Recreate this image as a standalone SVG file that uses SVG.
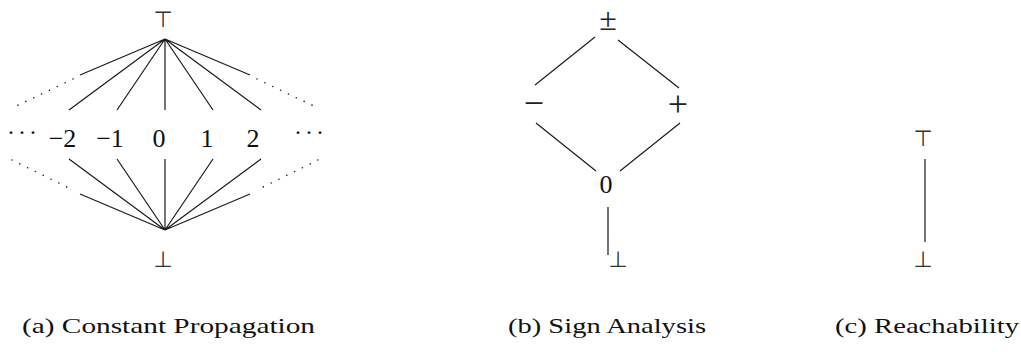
<svg xmlns="http://www.w3.org/2000/svg" width="1021" height="352" viewBox="0 0 1021 352">
<style>
.lbl{font-family:"Liberation Serif","DejaVu Serif",serif;font-size:26px;fill:#111;text-anchor:middle}
.op{font-family:"Liberation Serif","DejaVu Serif",serif;font-size:36px;fill:#222;text-anchor:middle}
.dots{font-family:"Liberation Serif","DejaVu Serif",serif;font-size:24px;fill:#111;letter-spacing:3px}
.sym{font-family:"DejaVu Sans",sans-serif;font-size:22px;fill:#333;text-anchor:middle}
.cap{font-family:"Liberation Serif","DejaVu Serif",serif;font-size:22px;fill:#111}
.e{stroke:#1a1a1a;stroke-width:1.2;fill:none}
.d{stroke:#1a1a1a;stroke-width:1.6;fill:none;stroke-dasharray:0 8.7;stroke-linecap:round}
</style>
<rect width="1021" height="352" fill="#fff"/>
<g id="connectors">
<path class="e" d="M165 39L80 75M165 39L69 110M165 39L117 110M165 39L165 110M165 39L213 110M165 39L261 110M165 39L250 75"/>
<path class="e" d="M165 230L80 194M165 230L69 159M165 230L117 159M165 230L165 159M165 230L213 159M165 230L261 159M165 230L250 194"/>
<path class="d" d="M73 79L12 108M257 79L318 108M12 160L73 190M318 160L257 190"/>
<path class="e" d="M595 37L535 85M618 40L679 88M536 123L596 171M680 123L620 171M608 207L608 255"/>
<path class="e" d="M925 159L925 242"/>
</g>
<g id="cp-top"><text class="sym" x="163" y="27">⊤</text></g>
<g id="cp-ldots"><text class="dots" x="7" y="140">···</text></g>
<g id="cp-m2"><text class="lbl" x="62.5" y="147">−2</text></g>
<g id="cp-m1"><text class="lbl" x="110" y="147">−1</text></g>
<g id="cp-0"><text class="lbl" x="159" y="147">0</text></g>
<g id="cp-1"><text class="lbl" x="207" y="147">1</text></g>
<g id="cp-2"><text class="lbl" x="253" y="147">2</text></g>
<g id="cp-rdots"><text class="dots" x="294" y="140">···</text></g>
<g id="cp-bot"><text class="sym" x="163" y="267">⊥</text></g>
<g id="sa-top"><text class="op" x="608" y="30" style="font-size:32px">±</text></g>
<g id="sa-neg"><text class="op" x="534" y="115">−</text></g>
<g id="sa-pos"><text class="op" x="678" y="116">+</text></g>
<g id="sa-zero"><text class="lbl" x="606" y="193">0</text></g>
<g id="sa-bot"><text class="sym" x="618" y="267">⊥</text></g>
<g id="r-top"><text class="sym" x="923" y="146">⊤</text></g>
<g id="r-bot"><text class="sym" x="923" y="267">⊥</text></g>
<g id="captions">
<text class="cap" x="22" y="333" textLength="293" lengthAdjust="spacingAndGlyphs">(a) Constant Propagation</text>
<text class="cap" x="508" y="333" textLength="198" lengthAdjust="spacingAndGlyphs">(b) Sign Analysis</text>
<text class="cap" x="835" y="333" textLength="184" lengthAdjust="spacingAndGlyphs">(c) Reachability</text>
</g>
</svg>
